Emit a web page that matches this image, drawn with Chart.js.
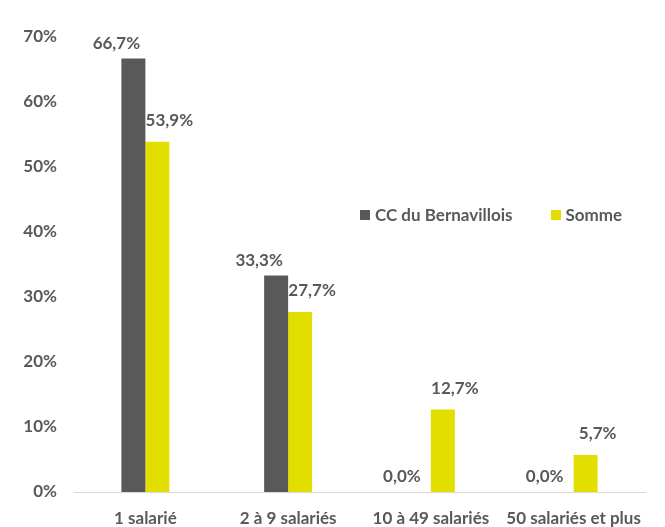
<!DOCTYPE html>
<html>
<head>
<meta charset="utf-8">
<script src="https://cdn.jsdelivr.net/npm/chart.js@4"></script>
<style>
  html, body { margin: 0; padding: 0; background: #fff; overflow: hidden; }
  #wrap { position: relative; width: 665px; height: 527px; }
  #legend {
    position: absolute; left: 360px; top: 204px;
    font: bold 17px Lato, "Open Sans", sans-serif; color: #595959;
    display: flex; align-items: center; white-space: nowrap;
  }
  .sw { display: inline-block; width: 10px; height: 10px; margin-right: 5px; }
  .item { display: flex; align-items: center; }
</style>
</head>
<body>
<div id="wrap">
  <canvas id="chart" width="665" height="527" style="display:block"></canvas>
  <div id="legend"></div>
</div>
<script>
const categories = ["1 salarié", "2 à 9 salariés", "10 à 49 salariés", "50 salariés et plus"]
const bernavillois = [66.7, 33.3, 0.0, 0.0]
const somme = [53.9, 27.7, 12.7, 5.7]
const seriesNames = ["CC du Bernavillois", "Somme"]
const seriesColors = ["#595959", "#e2df00"]

const textColor = "#595959"
const fontFamily = "Lato, 'Open Sans', sans-serif"

const legend = document.getElementById("legend")
seriesNames.forEach((name, i) => {
  const item = document.createElement("span")
  item.className = "item"
  item.style.marginRight = i === 0 ? "38px" : "0"
  item.innerHTML = `<span class="sw" style="background:${seriesColors[i]}"></span>${name}`
  legend.appendChild(item)
})

const labelPlugin = {
  id: "barLabels",
  afterDatasetsDraw(chart) {
    const ctx = chart.ctx
    ctx.save()
    ctx.font = `bold 17px ${fontFamily}`
    ctx.fillStyle = textColor
    ctx.textAlign = "center"
    ctx.textBaseline = "middle"
    chart.data.datasets.forEach((ds, di) => {
      chart.getDatasetMeta(di).data.forEach((bar, i) => {
        const value = ds.data[i]
        const text = value.toFixed(1).replace(".", ",") + "%"
        const x = di === 0 ? bar.x - bar.width / 2 - 5 : bar.x + bar.width / 2
        const gap = di === 0 ? 15 : 21
        ctx.fillText(text, x, bar.y - gap)
      })
    })
    ctx.restore()
  }
}

new Chart(document.getElementById("chart"), {
  type: "bar",
  data: {
    labels: categories,
    datasets: [
      {
        label: seriesNames[0],
        data: bernavillois,
        backgroundColor: seriesColors[0],
        categoryPercentage: 0.336,
        barPercentage: 1
      },
      {
        label: seriesNames[1],
        data: somme,
        backgroundColor: seriesColors[1],
        categoryPercentage: 0.336,
        barPercentage: 1
      }
    ]
  },
  options: {
    responsive: false,
    animation: false,
    layout: { padding: { top: 37, right: 20, bottom: 0, left: 0 } },
    plugins: {
      legend: { display: false },
      tooltip: { enabled: false }
    },
    scales: {
      x: {
        grid: { display: false },
        border: { color: "#d9d9d9", width: 1 },
        ticks: {
          color: textColor,
          font: { family: fontFamily, size: 17, weight: "bold" },
          padding: 8,
          maxRotation: 0,
          autoSkip: false
        },
        afterFit: scale => { scale.height = 35 }
      },
      y: {
        min: 0,
        max: 70,
        grid: { display: false },
        border: { display: false },
        ticks: {
          stepSize: 10,
          color: textColor,
          font: { family: fontFamily, size: 17, weight: "bold" },
          padding: 9,
          callback: value => `${value}%`
        },
        afterFit: scale => { scale.width = 74 }
      }
    }
  },
  plugins: [labelPlugin]
})
</script>
</body>
</html>
